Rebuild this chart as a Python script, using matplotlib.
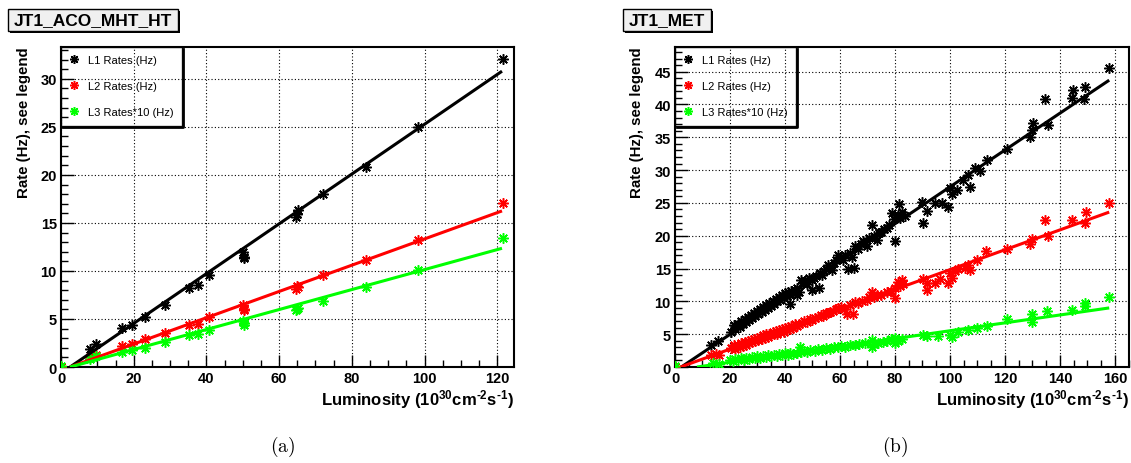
import matplotlib
matplotlib.use('Agg')
import matplotlib.pyplot as plt
from matplotlib.patches import Rectangle
from matplotlib.lines import Line2D
from matplotlib.ticker import MultipleLocator

plt.rcParams['font.family'] = ['Liberation Sans', 'DejaVu Sans']
plt.rcParams['mathtext.fontset'] = 'custom'
plt.rcParams['mathtext.bf'] = 'Liberation Sans:bold'
plt.rcParams['mathtext.rm'] = 'Liberation Sans:bold'
plt.rcParams['mathtext.default'] = 'bf'

# ---------------- data: panel (a) JT1_ACO_MHT_HT ----------------
a_lum = [0, 8.1, 9.6, 16.7, 19.6, 23.1, 28.6, 35.2, 37.7, 40.6, 50.0, 50.3, 50.3,
         64.6, 65.0, 65.3, 72.2, 84.0, 98.2, 121.5]
a_l1 = [0, 1.9, 2.4, 4.1, 4.35, 5.2, 6.5, 8.2, 8.5, 9.6, 12.0, 11.5, 11.3,
        15.6, 15.9, 16.3, 18.0, 20.8, 25.0, 32.05]
a_l2 = [0, 1.03, 1.27, 2.19, 2.43, 2.88, 3.53, 4.42, 4.52, 5.2, 6.47, 6.06, 5.9,
        8.1, 8.46, 8.3, 9.55, 11.13, 13.25, 17.1]
a_l3 = [0.07, 0.86, 1.1, 1.54, 1.78, 2.02, 2.57, 3.32, 3.39, 3.9, 4.8, 4.55, 4.35,
        5.9, 6.0, 6.13, 6.88, 8.3, 10.1, 13.4]
a_fit_x = [2.5, 121.3]
a_fit_l1 = [0, 30.8]
a_fit_l2 = [0, 16.25]
a_fit_l3 = [0, 12.36]

# ---------------- data: panel (b) JT1_MET ----------------
b_l1_lum = [0, 13.0, 15.5, 20.5, 21.5, 22.0, 22.8, 23.5, 24.0, 24.6, 25.3, 25.8, 26.4, 27.0,
            27.5, 28.1, 28.6, 29.2, 29.8, 30.3, 30.9, 31.5, 32.0, 32.6, 33.2, 33.8, 34.3,
            34.9, 35.5, 36.0, 36.6, 37.2, 37.8, 38.3, 38.9, 39.5, 40.0, 40.6, 41.2, 41.7,
            42.0, 42.3, 42.9, 43.5, 44.2, 44.5, 45.0, 46.0, 46.5, 47.3, 48.0, 48.8, 49.7,
            49.7, 50.5, 51.3, 52.4, 52.7, 53.5, 54.3, 55.0, 55.7, 56.5, 57.0, 57.8, 58.6,
            59.4, 60.2, 61.2, 62.0, 63.0, 63.8, 64.5, 65.2, 65.5, 66.5, 67.5, 68.5, 69.7,
            70.5, 71.5, 72.3, 73.3, 74.2, 75.0, 76.0, 77.0, 78.0, 78.8, 79.5, 80.0, 80.6,
            81.2, 81.6, 81.8, 82.5, 83.5, 90.0, 90.3, 91.5, 94.5, 97.0, 99.4, 100.0,
            100.6, 102.4, 104.8, 106.7, 107.2, 109.1, 110.9, 113.3, 120.6, 129.1, 129.7,
            130.1, 134.5, 135.8, 144.2, 144.8, 148.8, 149.1, 157.9]
b_l1 = [0, 3.4, 3.9, 5.3, 6.4, 5.8, 6.6, 6.1, 7.0, 6.5, 7.3, 6.8, 7.6, 7.1,
        7.9, 7.4, 8.3, 7.8, 8.5, 8.0, 8.9, 8.4, 9.2, 8.7, 9.4, 9.0, 9.8,
        9.3, 10.1, 9.6, 10.4, 10.0, 10.7, 10.2, 11.0, 10.5, 11.2, 10.8, 11.4, 11.0,
        9.6, 11.6, 11.2, 11.8, 11.0, 12.1, 11.5, 13.3, 12.8, 13.1, 12.6, 13.5, 13.2,
        11.8, 13.6, 13.9, 12.0, 14.3, 14.0, 14.6, 14.9, 15.6, 15.2, 14.8, 15.9, 16.3,
        17.1, 16.8, 16.3, 17.0, 15.0, 17.4, 16.8, 15.1, 18.4, 18.0, 18.8, 19.2, 18.5,
        19.6, 21.7, 19.9, 19.4, 20.4, 20.6, 21.0, 21.2, 21.6, 23.5, 22.5, 19.2, 22.9,
        23.2, 24.9, 22.7, 23.6, 23.0, 25.1, 22.0, 23.7, 25.0, 25.0, 24.4, 27.3,
        26.4, 27.0, 28.5, 29.3, 27.5, 30.3, 29.8, 31.6, 33.2, 35.0, 36.1,
        37.1, 40.8, 36.8, 41.0, 42.2, 40.9, 42.6, 45.5]

b_l2_lum = [0, 13.0, 15.0, 16.0, 20.5, 21.5, 22.0, 22.8, 23.5, 24.0, 24.6, 25.3, 25.8, 26.4,
            27.0, 27.5, 28.1, 28.6, 29.2, 29.8, 30.3, 30.9, 31.5, 32.0, 32.6, 33.2, 33.8,
            34.3, 34.9, 35.5, 36.0, 36.6, 37.2, 37.8, 38.3, 38.9, 39.5, 40.0, 40.6, 41.2,
            41.7, 42.3, 42.9, 43.5, 44.2, 45.0, 46.1, 47.0, 48.0, 49.0, 50.0, 50.9, 52.0,
            53.0, 54.0, 55.0, 55.7, 56.5, 57.5, 58.5, 59.4, 60.5, 61.5, 62.4, 63.5, 64.8,
            65.5, 66.5, 68.0, 69.7, 70.5, 71.5, 72.5, 73.5, 75.0, 77.0, 78.5, 80.0, 80.0,
            81.2, 82.0, 82.5, 83.0, 90.1, 91.5, 91.5, 94.5, 96.4, 99.4, 100.0, 100.6,
            101.8, 103.0, 105.5, 106.7, 107.3, 109.7, 113.0, 120.6, 129.1, 129.7, 134.5,
            135.8, 144.2, 149.1, 149.3, 157.9]
b_l2 = [0, 1.9, 2.0, 1.8, 2.9, 3.3, 2.8, 3.4, 3.0, 3.6, 3.2, 3.8, 3.4, 3.9,
        3.6, 4.1, 3.8, 4.3, 3.9, 4.4, 4.1, 4.6, 4.3, 4.8, 4.4, 5.0, 4.6,
        5.1, 4.8, 5.3, 5.0, 5.5, 5.1, 5.6, 5.3, 5.8, 5.4, 6.0, 5.6, 6.1,
        5.8, 6.3, 6.0, 6.5, 6.2, 6.6, 6.7, 7.0, 6.8, 7.3, 7.1, 7.5, 7.6,
        7.9, 7.7, 8.2, 8.2, 8.4, 8.6, 8.8, 9.0, 9.2, 8.9, 8.0, 9.4, 8.0,
        9.9, 9.7, 10.0, 10.2, 10.6, 11.5, 10.7, 10.9, 11.0, 11.4, 11.6, 12.0, 10.5,
        13.0, 12.4, 13.3, 12.6, 13.4, 11.8, 12.8, 12.8, 13.4, 12.8, 14.3, 13.6,
        14.6, 14.9, 15.1, 15.6, 14.8, 16.3, 17.6, 18.0, 18.8, 19.5, 22.4,
        19.9, 22.4, 22.0, 23.6, 25.0]

b_l3_lum = [0, 14.0, 16.0, 20.0, 21.0, 22.0, 23.0, 24.0, 25.0, 26.0, 27.0, 28.0, 29.0,
            30.0, 31.0, 32.0, 33.0, 34.0, 35.0, 36.0, 37.0, 38.0, 39.0, 40.0, 41.0, 42.0,
            43.0, 44.2, 45.5, 46.0, 47.0, 48.0, 49.0, 50.9, 52.0, 53.5, 55.0, 56.5, 58.0,
            59.4, 60.5, 62.0, 63.5, 65.5, 67.0, 69.0, 71.5, 71.5, 72.5, 73.9, 75.5, 77.0,
            78.5, 80.0, 80.0, 81.0, 82.5, 90.3, 91.5, 95.8, 100.0, 100.6, 103.0, 106.7,
            109.7, 113.3, 120.6, 129.7, 129.7, 135.2, 144.2, 149.1, 149.1, 157.9]
b_l3 = [0.1, 0.6, 0.5, 1.0, 0.9, 1.2, 1.0, 1.3, 1.1, 1.4, 1.2, 1.5, 1.3,
        1.6, 1.4, 1.7, 1.5, 1.8, 1.6, 1.9, 1.7, 2.0, 1.8, 2.1, 1.9, 2.2,
        2.0, 2.1, 3.1, 2.3, 2.5, 2.3, 2.6, 2.4, 2.7, 2.6, 2.9, 2.8, 3.0,
        3.1, 3.2, 3.1, 3.3, 3.4, 3.5, 3.6, 4.1, 3.1, 3.5, 3.6, 3.8, 3.9,
        4.2, 4.4, 3.6, 4.0, 4.3, 4.9, 4.7, 4.7, 4.9, 4.6, 5.4, 5.7,
        5.9, 6.3, 7.3, 8.0, 6.9, 8.6, 8.7, 9.7, 9.3, 10.6]
b_fit_x = [[2.3, 157.9], [2.0, 157.9], [8.0, 157.9]]
b_fit_l1 = [0, 43.7]
b_fit_l2 = [0, 23.6]
b_fit_l3 = [0, 9.0]

titles = ['JT1_ACO_MHT_HT', 'JT1_MET']
captions = ['(a)', '(b)']
legend_labels = ['L1 Rates (Hz)', 'L2 Rates (Hz)', 'L3 Rates*10 (Hz)']
colors = ['black', '#ff0000', '#00ff00']

# ---------------- figure ----------------
W, H = 1131, 464
fig = plt.figure(figsize=(W / 100, H / 100), dpi=100)


def fx(px):
    return px / W


def fy(py):
    return 1 - py / H


ax_top, ax_bot = 47.7, 368.0
axes_px = [(61, 514), (675, 1129)]
ylabel_px = [31, 644]
xlims = [124.6, 165.1]
ylims = [33.35, 48.8]
axes = []
for (l, r) in axes_px:
    ax = fig.add_axes([fx(l), fy(ax_bot), fx(r - l), (ax_bot - ax_top) / H])
    axes.append(ax)

mk = (8, 2, 0)
panels = [
    (a_lum, a_l1, a_lum, a_l2, a_lum, a_l3,
     [a_fit_x] * 3, [a_fit_l1, a_fit_l2, a_fit_l3]),
    (b_l1_lum, b_l1, b_l2_lum, b_l2, b_l3_lum, b_l3,
     b_fit_x, [b_fit_l1, b_fit_l2, b_fit_l3]),
]

for i, ax in enumerate(axes):
    x1, y1, x2, y2, x3, y3, fxs, fys = panels[i]
    handles = []
    for (xs, ys), c, lab in zip([(x1, y1), (x2, y2), (x3, y3)], colors, legend_labels):
        h, = ax.plot(xs, ys, ls='none', marker=mk, ms=7.5, mew=1.1, color=c, label=lab,
                     zorder=3)
        handles.append(h)
    for xs, ys, c in zip(fxs, fys, colors):
        ax.plot(xs, ys, color=c, lw=2.2, zorder=4, solid_capstyle='butt')

    ax.set_xlim(0, xlims[i])
    ax.set_ylim(0, ylims[i])
    ax.xaxis.set_major_locator(MultipleLocator(20))
    ax.xaxis.set_minor_locator(MultipleLocator(5))
    ax.yaxis.set_major_locator(MultipleLocator(5))
    ax.yaxis.set_minor_locator(MultipleLocator(1))
    ax.tick_params(which='both', direction='in', top=False, right=False, width=1,
                   labelsize=10.5, color='black')
    ax.tick_params(which='major', length=9, pad=3)
    ax.tick_params(which='minor', length=5)
    for lbl in ax.get_xticklabels() + ax.get_yticklabels():
        lbl.set_fontweight('bold')
    for s in ax.spines.values():
        s.set_linewidth(1.5)
    ax.grid(True, which='major', color='black', linestyle=(0, (1, 2)), linewidth=0.8)
    ax.set_axisbelow(True)

    ax.set_ylabel('Rate (Hz), see legend', fontsize=10.8, fontweight='bold', loc='top')
    ax.yaxis.set_label_coords((ylabel_px[i] - axes_px[i][0]) /
                              (axes_px[i][1] - axes_px[i][0]), 1.0)
    ax.set_xlabel(r'Luminosity (10$^{30}$cm$^{\text{-2}}$s$^{\text{-1}}$)', fontsize=12,
                  fontweight='bold', loc='right')
    ax.xaxis.set_label_coords(1.0, -(388.5 - ax_bot) / (ax_bot - ax_top))

    leg = ax.legend(handles=handles, loc='upper left', bbox_to_anchor=(0, 1),
                    borderaxespad=0, fontsize=8, frameon=True, fancybox=False,
                    edgecolor='black', facecolor='none', framealpha=None,
                    labelspacing=1.45, handlelength=0.8, handletextpad=0.9,
                    borderpad=0.75, markerscale=0.85)
    leg.get_frame().set_linewidth(1.0)
    leg.set_zorder(6)

# title boxes
title_boxes = [(8, 178, 10, 32), (623, 711, 9.5, 31.5)]
for (l, r, t, b), txt in zip(title_boxes, titles):
    fig.patches.append(Rectangle((fx(l + 2), fy(b + 2)), fx(r - l), (b - t) / H,
                                 transform=fig.transFigure, fc='black', ec='none'))
    fig.patches.append(Rectangle((fx(l), fy(b)), fx(r - l), (b - t) / H,
                                 transform=fig.transFigure, fc='#f0f0f0', ec='black',
                                 lw=1.0))
    fig.text(fx((l + r) / 2), fy((t + b) / 2), txt, ha='center', va='center',
             fontsize=12.5, fontweight='bold')

# captions
for cx, cap in zip([283, 895], captions):
    fig.text(fx(cx), fy(447), '$(\\mathrm{' + cap[1] + '})$', ha='center', va='center',
             fontsize=14, math_fontfamily='cm')

# legend shadows (ROOT style: right and bottom edges)
fig.canvas.draw()
for ax in axes:
    bb = ax.get_legend().get_frame().get_window_extent()
    x0, y0, x1, y1 = bb.x0, bb.y0, bb.x1, bb.y1
    fig.lines.append(Line2D([x1 + 1, x1 + 1, x0 + 2], [y1 - 2, y0 - 1, y0 - 1],
                            transform=None, color='black', lw=2.0, zorder=7))

fig.savefig('out.png', dpi=100)
